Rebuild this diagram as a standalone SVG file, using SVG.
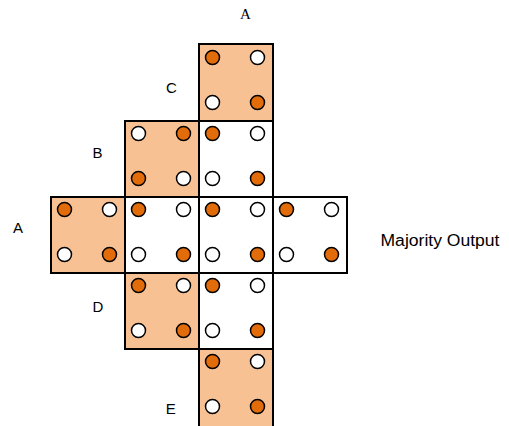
<svg xmlns="http://www.w3.org/2000/svg" width="509" height="426" viewBox="0 0 509 426">
<style>
.pc{fill:#F8C194;stroke:#000;stroke-width:2}
.wc{fill:#fff;stroke:#000;stroke-width:2}
.o{fill:#E36C0A;stroke:#000;stroke-width:1.5}
.w{fill:#fff;stroke:#000;stroke-width:1.5}
.lbl{font-family:"Liberation Sans",Arial,sans-serif;font-size:15px;fill:#000;text-anchor:middle}
.ser{font-family:"Liberation Serif","Times New Roman",serif;font-size:15px;fill:#000;text-anchor:middle}
</style>
<defs>
<g id="dots">
<circle class="o" cx="13.5" cy="12.5" r="7"/>
<circle class="w" cx="58.5" cy="12.5" r="7"/>
<circle class="w" cx="13.5" cy="57.5" r="7"/>
<circle class="o" cx="58.5" cy="57.5" r="7"/>
</g>
<g id="dotsB">
<circle class="w" cx="13.5" cy="12.5" r="7"/>
<circle class="o" cx="58.5" cy="12.5" r="7"/>
<circle class="o" cx="13.5" cy="57.5" r="7"/>
<circle class="w" cx="58.5" cy="57.5" r="7"/>
</g>
</defs>
<g id="cells-white">
<g id="cell-b-out"><rect class="wc" x="199" y="121" width="74" height="76"/><use href="#dots" x="199" y="121"/></g>
<g id="cell-center-1"><rect class="wc" x="125" y="197" width="74" height="76"/><use href="#dots" x="125" y="197"/></g>
<g id="cell-center-2"><rect class="wc" x="199" y="197" width="74" height="76"/><use href="#dots" x="199" y="197"/></g>
<g id="cell-majority"><rect class="wc" x="273" y="197" width="74" height="76"/><use href="#dots" x="273" y="197"/></g>
<g id="cell-d-out"><rect class="wc" x="199" y="273" width="74" height="76"/><use href="#dots" x="199" y="273"/></g>
</g>
<g id="cell-c"><rect class="pc" x="199" y="44" width="74" height="77"/><use href="#dots" x="199" y="45"/></g>
<g id="cell-b"><rect class="pc" x="125" y="121" width="74" height="76"/><use href="#dotsB" x="125" y="121"/></g>
<g id="cell-a"><rect class="pc" x="51" y="197" width="74" height="76"/><use href="#dots" x="51" y="197"/></g>
<g id="cell-d"><rect class="pc" x="125" y="273" width="74" height="76"/><use href="#dots" x="125" y="273"/></g>
<g id="cell-e"><rect class="pc" x="199" y="349" width="74" height="82"/><use href="#dots" x="199" y="349"/></g>
<g id="connectors"/>
<g id="labels">
<text class="ser" x="245.5" y="19">A</text>
<text class="lbl" x="171.5" y="93">C</text>
<text class="lbl" x="97.5" y="158">B</text>
<text class="lbl" x="18" y="233">A</text>
<text class="lbl" x="98" y="311.5">D</text>
<text class="lbl" x="170.7" y="413.5">E</text>
<text x="380.5" y="245.5" style="font-family:'Liberation Sans',Arial,sans-serif;font-size:16px;fill:#000" textLength="119" lengthAdjust="spacingAndGlyphs">Majority Output</text>
</g>
</svg>
